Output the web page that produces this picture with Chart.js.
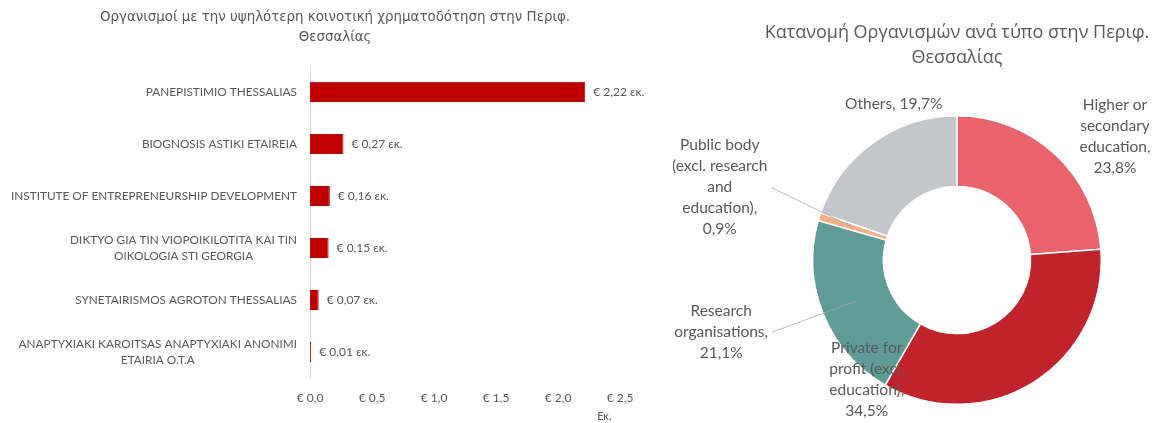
<!DOCTYPE html>
<html>
<head>
<meta charset="utf-8">
<script src="https://cdn.jsdelivr.net/npm/chart.js@4/dist/chart.umd.min.js"></script>
<style>
  body { margin: 0; background: #fff; }
  #barChart { position: absolute; left: 0; top: 0; }
  #pieChart { position: absolute; left: 673px; top: 0; }
</style>
</head>
<body>
<canvas id="barChart" width="670" height="423"></canvas>
<canvas id="pieChart" width="486" height="423"></canvas>
<script>
// left chart : organisations with the highest funding
const orgNames = [
    ['PANEPISTIMIO THESSALIAS'],
    ['BIOGNOSIS ASTIKI ETAIREIA'],
    ['INSTITUTE OF ENTREPRENEURSHIP DEVELOPMENT'],
    ['DIKTYO GIA TIN VIOPOIKILOTITA KAI TIN', 'OIKOLOGIA STI GEORGIA'],
    ['SYNETAIRISMOS AGROTON THESSALIAS'],
    ['ANAPTYXIAKI KAROITSAS ANAPTYXIAKI ANONIMI', 'ETAIRIA O.T.A']
];
const funding = [2.22, 0.27, 0.16, 0.15, 0.07, 0.01];
const xTickValues = [0, 0.5, 1, 1.5, 2, 2.5];

// right chart : organisations by type
const orgTypes = [
    ['Higher or', 'secondary', 'education,'],
    ['Private for', 'profit (excl.', 'education),'],
    ['Research', 'organisations,'],
    ['Public body', '(excl. research', 'and', 'education),'],
    ['Others,']
];
const typeShares = [23.8, 34.5, 21.1, 0.9, 19.7];
const typeColors = ['#E8636B', '#C0232C', '#5F9B97', '#F4B183', '#C3C7CB'];

const grey = '#595959';
const latin = 'Lato, "Noto Sans", sans-serif';

const comma = (v, d) => v.toFixed(d).replace('.', ',');

// draws the category names (lines centered inside a right aligned block) and the value labels
const barLabels = {
    id: 'barLabels',
    afterDraw(chart) {
        const ctx = chart.ctx;
        const yScale = chart.scales.y;
        ctx.save();
        ctx.fillStyle = grey;
        ctx.textBaseline = 'middle';
        ctx.font = '11.8px ' + latin;
        orgNames.forEach((lines, i) => {
            const y = yScale.getPixelForValue(i);
            const bw = Math.max(...lines.map(l => ctx.measureText(l).width));
            const cx = yScale.right - 13 - bw / 2;
            const lh = 16;
            lines.forEach((l, j) => {
                ctx.textAlign = 'center';
                ctx.fillText(l, cx, y + (j - (lines.length - 1) / 2) * lh);
            });
        });
        ctx.font = '12px ' + latin;
        ctx.textAlign = 'left';
        chart.getDatasetMeta(0).data.forEach((bar, i) => {
            ctx.fillText('€ ' + comma(funding[i], 2) + ' εκ.', bar.x + 8, bar.y);
        });
        ctx.restore();
    }
};

new Chart(document.getElementById('barChart'), {
    type: 'bar',
    data: {
        labels: orgNames.map(l => l.join(' ')),
        datasets: [{
            data: funding,
            backgroundColor: '#C00000',
            borderColor: '#A80000',
            borderWidth: 1,
            barPercentage: 0.385,
            categoryPercentage: 1
        }]
    },
    options: {
        indexAxis: 'y',
        responsive: false,
        animation: false,
        layout: { padding: { left: 50, right: 50, top: 0, bottom: 0 } },
        plugins: {
            legend: { display: false },
            tooltip: { enabled: false },
            title: {
                display: true,
                text: ['Οργανισμοί με την υψηλότερη κοινοτική χρηματοδότηση στην Περιφ.', 'Θεσσαλίας'],
                color: grey,
                font: { family: '"DejaVu Sans", sans-serif', size: 13.4, weight: 'normal', lineHeight: 1.45 },
                padding: { top: 8, bottom: 19 }
            }
        },
        scales: {
            x: {
                min: 0,
                max: 2.5,
                afterBuildTicks: s => { s.ticks = xTickValues.map(v => ({ value: v })); },
                afterFit: s => { s.height = 45; },
                ticks: {
                    color: grey,
                    font: { family: latin, size: 12 },
                    padding: 5,
                    callback: v => '€ ' + comma(v, 1)
                },
                grid: { display: false },
                border: { display: false },
                title: {
                    display: true,
                    text: 'Εκ.   ',
                    align: 'end',
                    color: grey,
                    font: { family: latin, size: 11 },
                    padding: { top: 4, bottom: 0 }
                }
            },
            y: {
                ticks: { display: false },
                grid: { display: false },
                border: { display: true, color: '#D9D9D9', width: 1 },
                afterFit: s => { s.width = 260; }
            }
        }
    },
    plugins: [barLabels]
});

// donut label placement : clock angle (deg) and distance in outer radii from the centre
const labelPlace = [[52, 1.39], [217, 1.04], [253, 1.71], [287, 1.72], [338, 1.17]];
const withLeader = [false, false, true, true, false];

const pieLabels = {
    id: 'pieLabels',
    afterDraw(chart) {
        const ctx = chart.ctx;
        const arcs = chart.getDatasetMeta(0).data;
        ctx.save();
        ctx.font = '15.5px ' + latin;
        ctx.fillStyle = grey;
        ctx.textAlign = 'center';
        ctx.textBaseline = 'middle';
        const lh = 21;
        arcs.forEach((arc, i) => {
            const r = arc.outerRadius;
            const a = labelPlace[i][0] * Math.PI / 180;
            const lx = arc.x + Math.sin(a) * r * labelPlace[i][1];
            const ly = arc.y - Math.cos(a) * r * labelPlace[i][1];
            const lines = orgTypes[i].slice();
            const pct = comma(typeShares[i], 1) + '%';
            if (lines.length === 1) lines[0] = lines[0] + ' ' + pct; else lines.push(pct);
            lines.forEach((l, j) => {
                ctx.fillText(l, lx, ly + (j - (lines.length - 1) / 2) * lh);
            });
            if (withLeader[i]) {
                const bw = Math.max(...lines.map(l => ctx.measureText(l).width));
                const mid = (arc.startAngle + arc.endAngle) / 2;
                const mr = (arc.innerRadius + arc.outerRadius) / 2;
                ctx.beginPath();
                ctx.strokeStyle = '#A6A6A6';
                ctx.lineWidth = 0.8;
                ctx.moveTo(lx + bw / 2 + 4, ly);
                ctx.lineTo(arc.x + Math.cos(mid) * mr, arc.y + Math.sin(mid) * mr);
                ctx.stroke();
            }
        });
        ctx.restore();
    }
};

new Chart(document.getElementById('pieChart'), {
    type: 'doughnut',
    data: {
        labels: orgTypes.map(l => l.join(' ')),
        datasets: [{
            data: typeShares,
            backgroundColor: typeColors,
            borderColor: '#fff',
            borderWidth: 1.5
        }]
    },
    options: {
        responsive: false,
        animation: false,
        cutout: '51%',
        layout: { padding: { left: 89, right: 7, top: 0, bottom: 18 } },
        plugins: {
            legend: { display: false },
            tooltip: { enabled: false },
            title: {
                display: true,
                text: ['Κατανομή Οργανισμών ανά τύπο στην Περιφ.', 'Θεσσαλίας'],
                color: grey,
                font: { family: '"Open Sans", sans-serif', size: 18, weight: 'normal', lineHeight: 1.39 },
                padding: { top: 20, bottom: 45 }
            }
        }
    },
    plugins: [pieLabels]
});
</script>
</body>
</html>
